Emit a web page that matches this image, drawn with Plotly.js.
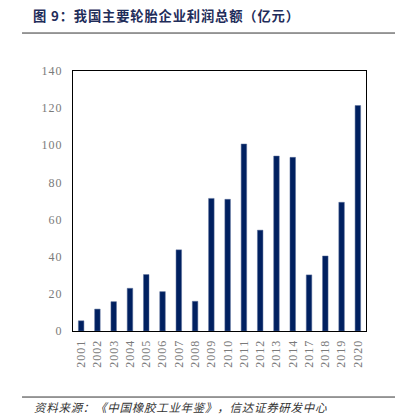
<!DOCTYPE html>
<html>
<head>
<meta charset="utf-8">
<script src="https://cdn.plot.ly/plotly-3.0.1.min.js"></script>
<style>html,body{margin:0;padding:0;background:#fff;}#chart{width:397px;height:418px;}</style>
</head>
<body>
<div id="chart"></div>
<script>
const years = ['2001','2002','2003','2004','2005','2006','2007','2008','2009','2010','2011','2012','2013','2014','2017','2018','2019','2020'];
const profit = [5.5, 11.8, 15.8, 23, 30.4, 21.2, 43.7, 16, 71.4, 70.9, 100.7, 54.3, 94.2, 93.5, 30.2, 40.4, 69.3, 121.4];
const yTicks = [0, 20, 40, 60, 80, 100, 120, 140];
const titleText = '图 9：我国主要轮胎企业利润总额（亿元）';
const sourceText = '资料来源：《中国橡胶工业年鉴》，信达证券研发中心';

// letter-spaced display text (still real text)
const spaced = (s, sp) => Array.from(s).join(sp);

const trace = {
  type: 'bar',
  x: years,
  y: profit,
  marker: {color: '#002060', line: {color: '#5a6f9a', width: 0.5}},
  hoverinfo: 'x+y'
};

const tickFont = {family: '"Liberation Serif", "Times New Roman", serif', size: 12, color: '#7a7a7a'};

const layout = {
  width: 397, height: 418,
  margin: {l: 73, r: 31, t: 71, b: 87},
  paper_bgcolor: '#ffffff',
  plot_bgcolor: '#ffffff',
  showlegend: false,
  bargap: 0.66,
  xaxis: {
    type: 'category',
    tickangle: -90,
    tickfont: tickFont,
    tickvals: years,
    ticktext: years.map(y => spaced(y, '\u200A')),
    showline: true, linecolor: '#000000', linewidth: 1, mirror: true,
    ticks: '', showgrid: false,
    ticklabelstandoff: 4
  },
  yaxis: {
    range: [0, 140],
    tickvals: yTicks,
    ticktext: yTicks.map(v => spaced(String(v), '\u200A')),
    tickfont: tickFont,
    showline: true, linecolor: '#000000', linewidth: 1, mirror: true,
    ticks: '', showgrid: false, zeroline: false,
    ticklabelstandoff: 8
  },
  shapes: [
    {type: 'line', xref: 'paper', yref: 'paper', x0: -0.174, x1: 1.099, y0: 1.146, y1: 1.146, line: {color: '#333333', width: 1}},
    {type: 'line', xref: 'paper', yref: 'paper', x0: -0.174, x1: 1.099, y0: -0.254, y1: -0.254, line: {color: '#333333', width: 1}}
  ],
  annotations: [
    {xref: 'paper', yref: 'paper', x: -0.143, y: 1.215, xanchor: 'left', yanchor: 'middle', showarrow: false,
     text: '<b>' + spaced(titleText, '\u200A') + '</b>', font: {family: '"Noto Sans CJK SC", sans-serif', size: 13.3, color: '#1f2d5a'}},
    {xref: 'paper', yref: 'paper', x: -0.14, y: -0.292, xanchor: 'left', yanchor: 'middle', showarrow: false,
     text: '<i>' + spaced(sourceText, '\u200A') + '</i>', font: {family: '"Noto Sans CJK SC", sans-serif', size: 11.5, color: '#333333'}}
  ]
};

Plotly.newPlot('chart', [trace], layout, {displayModeBar: false, staticPlot: true});
</script>
</body>
</html>
